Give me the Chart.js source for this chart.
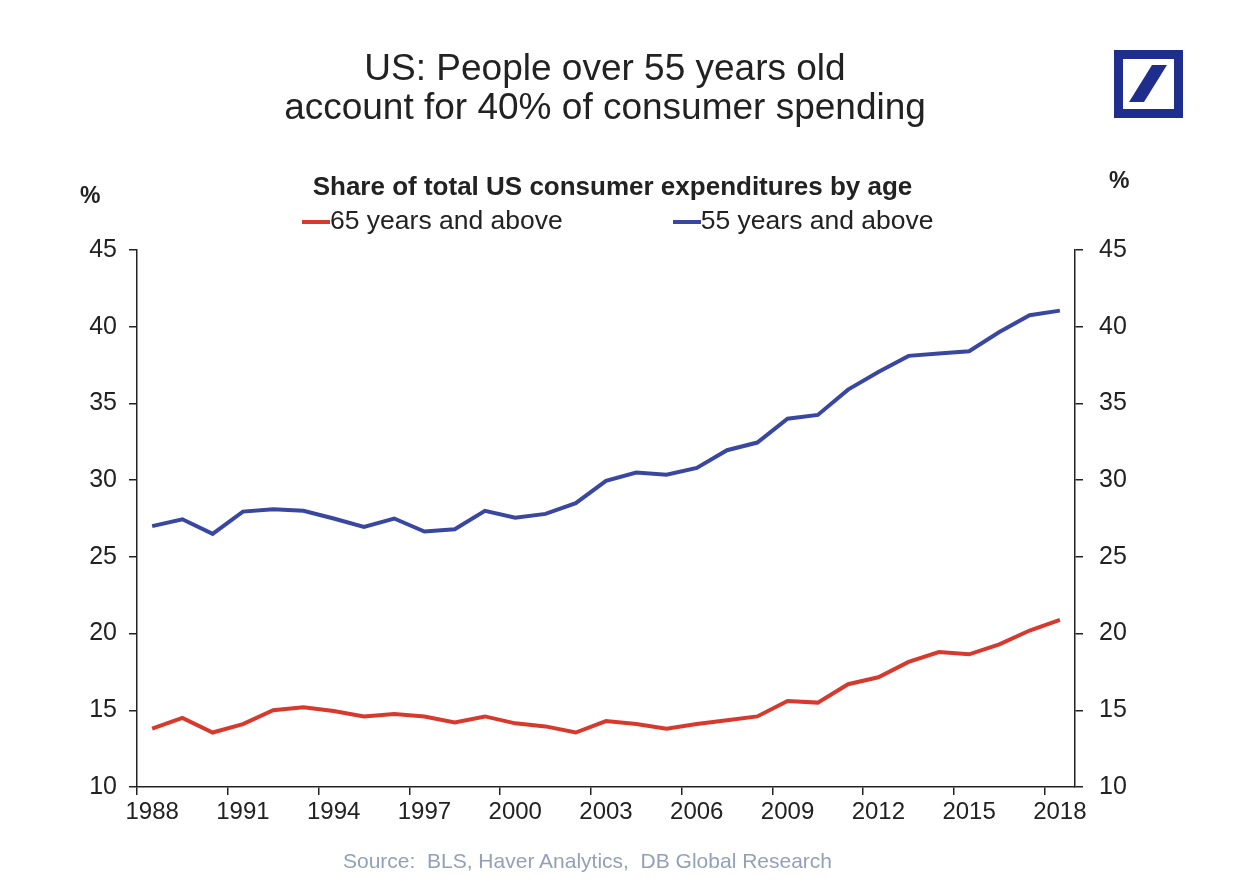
<!DOCTYPE html>
<html>
<head>
<meta charset="utf-8">
<script src="https://cdn.jsdelivr.net/npm/chart.js@4/dist/chart.umd.min.js"></script>
<style>
  body { margin: 0; background: #fff; font-family: "Liberation Sans", Arial, sans-serif; color: #222; }
  #wrap { position: relative; width: 1242px; height: 886px; overflow: hidden; }
  #wrap canvas { position: absolute; left: 0; top: 0; }
  .txt { position: absolute; white-space: nowrap; }
  #title { left: 0; width: 1210px; top: 48px; text-align: center; font-size: 37px; line-height: 39px; }
  #subtitle { left: 0; width: 1225px; top: 171px; text-align: center; font-size: 26px; font-weight: bold; }
  #legend { left: 302px; top: 205px; font-size: 26.5px; }
  #legend span.item { display: inline-block; }
  #legend span.mark { display: inline-block; width: 28px; height: 4px; vertical-align: middle; }
  #pctL { left: 80px; top: 182px; font-size: 23px; font-weight: bold; }
  #pctR { left: 1109px; top: 167px; font-size: 23px; font-weight: bold; }
  #source { left: 0; width: 1175px; top: 849px; text-align: center; font-size: 21px; color: #93a1b8; }
  #logo { position: absolute; left: 1114px; top: 50px; }
</style>
</head>
<body>
<div id="wrap">
  <canvas id="chartSpend" width="1242" height="886"></canvas>
  <div class="txt" id="title">US: People over 55 years old<br>account for 40% of consumer spending</div>
  <div class="txt" id="subtitle">Share of total US consumer expenditures by age</div>
  <div class="txt" id="legend"></div>
  <div class="txt" id="pctL">%</div>
  <div class="txt" id="pctR">%</div>
  <div class="txt" id="source">Source:&nbsp; BLS, Haver Analytics,&nbsp; DB Global Research</div>
  <svg id="logo" width="69" height="68" viewBox="0 0 69 68">
    <rect x="4.5" y="4.5" width="60" height="59" fill="none" stroke="#1f2d8c" stroke-width="9"/>
    <polygon points="15,52 30,52 53,15 38,15" fill="#1f2d8c"/>
  </svg>
</div>

<script>
const years = ['1988','1989','1990','1991','1992','1993','1994','1995','1996','1997','1998',
  '1999','2000','2001','2002','2003','2004','2005','2006','2007','2008','2009','2010',
  '2011','2012','2013','2014','2015','2016','2017','2018'];

const over65 = [13.8, 14.5, 13.55, 14.1, 15.0, 15.2, 14.95, 14.6, 14.75, 14.6, 14.2,
  14.6, 14.15, 13.95, 13.55, 14.3, 14.1, 13.8, 14.1, 14.35, 14.6, 15.6, 15.5,
  16.7, 17.15, 18.15, 18.8, 18.65, 19.3, 20.2, 20.9];

const over55 = [27.0, 27.45, 26.5, 27.95, 28.1, 28.0, 27.5, 26.95, 27.5, 26.65, 26.8,
  28.0, 27.55, 27.8, 28.5, 29.95, 30.5, 30.35, 30.8, 31.95, 32.45, 34.0, 34.25,
  35.9, 37.05, 38.1, 38.25, 38.4, 39.65, 40.75, 41.05];

const xTickLabels = ['1988','1991','1994','1997','2000','2003','2006','2009','2012','2015','2018'];

const seriesNames = ['65 years and above', '55 years and above'];
const seriesColors = ['#d8392d', '#3a47a0'];

// legend (html)
const legendEl = document.getElementById('legend');
seriesNames.forEach(function (name, i) {
  const item = document.createElement('span');
  item.className = 'item';
  item.style.marginRight = i === 0 ? '110px' : '0';
  item.innerHTML = '<span class="mark" style="background:' + seriesColors[i] + '"></span>' + name;
  legendEl.appendChild(item);
});

const axisColor = '#222';
const xFont = { family: '"Liberation Sans", Arial, sans-serif', size: 24 };
const yFont = { family: '"Liberation Sans", Arial, sans-serif', size: 25 };

const ctxSpend = document.getElementById('chartSpend').getContext('2d');

new Chart(ctxSpend, {
  type: 'line',
  data: {
    labels: years,
    datasets: [{
      label: seriesNames[0],
      data: over65,
      borderColor: seriesColors[0],
      borderWidth: 4,
      pointRadius: 0,
      tension: 0,
      yAxisID: 'y'
    }, {
      label: seriesNames[1],
      data: over55,
      borderColor: seriesColors[1],
      borderWidth: 4,
      pointRadius: 0,
      tension: 0,
      yAxisID: 'y'
    }]
  },
  options: {
    responsive: false,
    animation: false,
    layout: { padding: { top: 250, left: 0, right: 0, bottom: 44 } },
    plugins: { legend: { display: false }, tooltip: { enabled: false } },
    scales: {
      x: {
        offset: true,
        grid: {
          offset: true,
          drawOnChartArea: false,
          drawTicks: true,
          tickLength: 8,
          lineWidth: 1.5,
          color: function (c) {
            return xTickLabels.includes(years[c.index]) ? axisColor : 'rgba(0,0,0,0)';
          }
        },
        border: { display: true, color: axisColor, width: 1.5 },
        ticks: {
          autoSkip: false,
          maxRotation: 0,
          padding: 3,
          color: axisColor,
          font: xFont,
          callback: function (val, i) {
            return xTickLabels.includes(years[i]) ? years[i] : '';
          }
        },
        afterFit: function (scale) { scale.height = 55; }
      },
      y: {
        position: 'left',
        min: 10,
        max: 45,
        grid: { drawOnChartArea: false, drawTicks: true, tickLength: 8, color: axisColor, lineWidth: 1.5 },
        border: { display: true, color: axisColor, width: 1.5 },
        ticks: { stepSize: 5, padding: 12, color: axisColor, font: yFont },
        afterFit: function (scale) { scale.width = 137; }
      },
      y2: {
        position: 'right',
        min: 10,
        max: 45,
        grid: { drawOnChartArea: false, drawTicks: true, tickLength: 8, color: axisColor, lineWidth: 1.5 },
        border: { display: true, color: axisColor, width: 1.5 },
        ticks: { stepSize: 5, padding: 16, color: axisColor, font: yFont },
        afterFit: function (scale) { scale.width = 167; }
      }
    }
  }
});
</script>
</body>
</html>
